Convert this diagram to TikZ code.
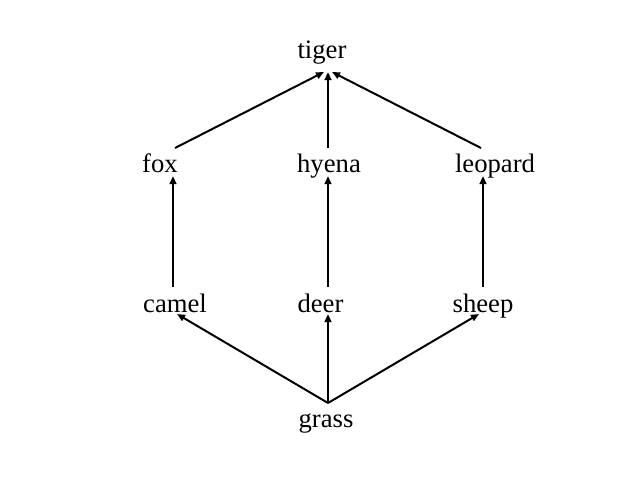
\documentclass[tikz,border=0pt]{standalone}
\usepackage{fontspec}
\setmainfont{Liberation Serif}
\usetikzlibrary{arrows.meta}
\begin{document}
\begin{tikzpicture}[x=0.75pt,y=-0.75pt,
  lbl/.style={inner sep=0pt,anchor=base,font=\fontsize{20}{24}\selectfont},
  edge/.style={line width=1.5pt,-{Triangle[length=6pt,width=5pt]}}]
\useasboundingbox[fill=white] (0,0) rectangle (640,480);
% labels
\node[lbl] (tiger) at (322,58) {tiger};
\node[lbl] (fox) at (160,172) {fox};
\node[lbl] (hyena) at (329,172) {hyena};
\node[lbl] (leopard) at (495,172) {leopard};
\node[lbl] (camel) at (175,312) {camel};
\node[lbl] (deer) at (320.5,312) {deer};
\node[lbl] (sheep) at (483,312) {sheep};
\node[lbl] (grass) at (326,427) {grass};
% edge end points
\coordinate (tigerL) at (324,72);
\coordinate (tigerM) at (328,72);
\coordinate (tigerR) at (332,72);
\coordinate (foxT) at (175,148);
\coordinate (hyenaT) at (328,148);
\coordinate (leopardT) at (481,148);
\coordinate (foxB) at (173,176);
\coordinate (hyenaB) at (328,176);
\coordinate (leopardB) at (483,176);
\coordinate (camelT) at (173,287);
\coordinate (deerT) at (328,287);
\coordinate (sheepT) at (483,287);
\coordinate (camelB) at (177,314);
\coordinate (deerB) at (328,314);
\coordinate (sheepB) at (479,314);
\coordinate (grassT) at (328,403);
% edges
\draw[edge] (foxT) -- (tigerL);
\draw[edge] (hyenaT) -- (tigerM);
\draw[edge] (leopardT) -- (tigerR);
\draw[edge] (camelT) -- (foxB);
\draw[edge] (deerT) -- (hyenaB);
\draw[edge] (sheepT) -- (leopardB);
\draw[edge] (grassT) -- (camelB);
\draw[edge] (grassT) -- (deerB);
\draw[edge] (grassT) -- (sheepB);
\end{tikzpicture}
\end{document}
